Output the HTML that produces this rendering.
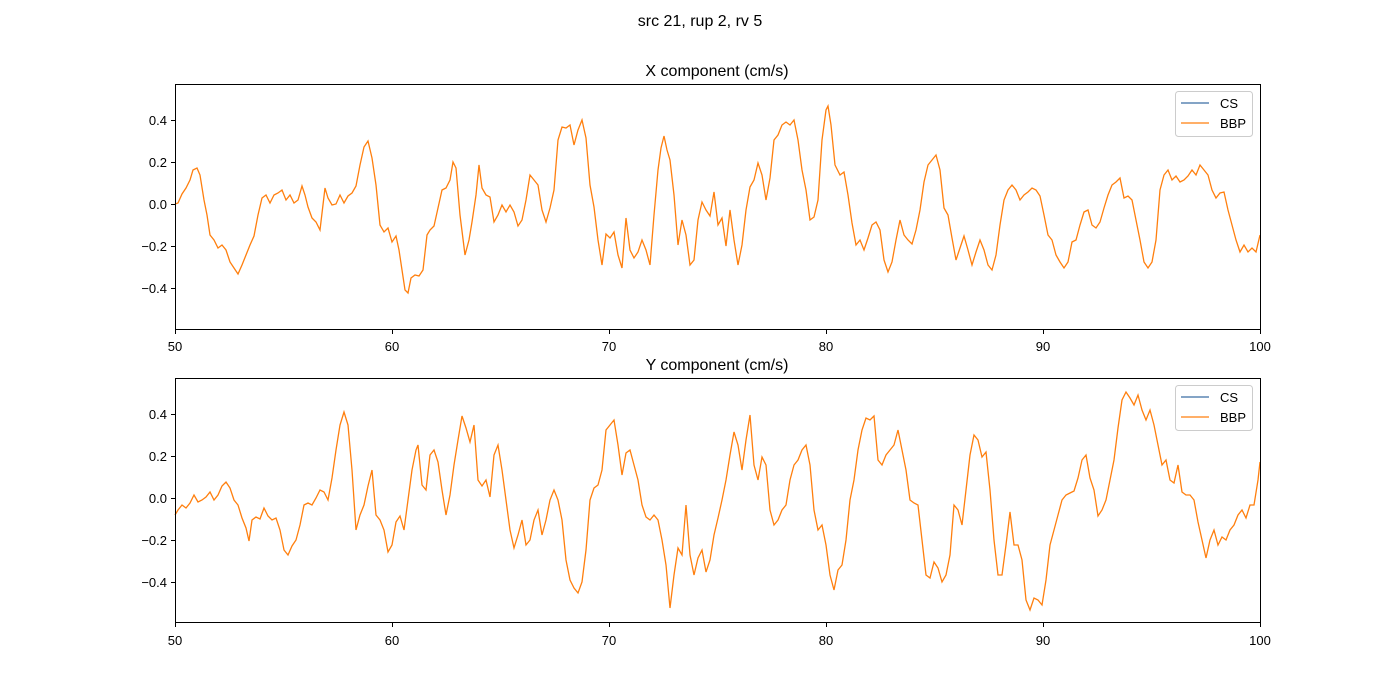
<!DOCTYPE html>
<html><head><meta charset="utf-8"><style>body{margin:0;background:#fff}svg{display:block;font-family:"Liberation Sans","DejaVu Sans",sans-serif}</style></head><body>
<svg width="1400" height="700" viewBox="0 0 1400 700">
<rect width="1400" height="700" fill="#fff"/>
<text x="700" y="26" font-size="16" text-anchor="middle">src 21, rup 2, rv 5</text>
<text x="717" y="76" font-size="16" text-anchor="middle">X component (cm/s)</text>
<text x="717" y="370" font-size="16" text-anchor="middle">Y component (cm/s)</text>
<g fill="none" stroke="#ff7f0e" stroke-width="1.3">
<polyline points="175,204 178,203 182,194 186,188 190,180 193,170 197,168 200,175 204,200 207,215 210,235 214,240 218,248 222,245 226,250 230,262 234,268 238,274 242,265 246,255 250,245 254,236 258,215 262,198 266,195 270,203 274,195 278,193 282,190 286,200 290,195 294,203 298,200 302,186 305,195 308,207 312,218 316,222 320,230 325,188 328,198 332,205 336,204 340,195 344,203 348,196 352,193 356,186 360,165 364,147 368,141 372,158 376,185 380,225 384,232 388,228 392,242 396,236 399,250 402,270 405,290 408,293 411,278 415,275 419,276 423,270 427,235 430,230 434,226 438,208 442,190 446,188 450,180 453,162 456,168 460,215 465,255 469,240 472,222 476,195 479,165 482,188 486,195 490,197 494,222 498,215 502,205 506,212 510,205 514,212 518,226 522,220 526,200 530,175 534,180 538,185 542,210 546,222 550,208 554,190 558,140 562,127 566,128 570,125 574,145 578,130 582,120 586,138 590,185 594,207 598,240 602,265 606,234 610,238 614,232 618,255 622,268 626,218 630,250 634,258 638,252 642,240 646,250 650,265 654,215 658,170 661,148 664,136 667,150 670,160 674,195 678,245 682,220 686,235 690,265 694,260 698,220 702,202 706,210 710,216 714,192 718,225 722,218 726,246 730,210 734,240 738,265 742,245 746,210 750,187 754,180 758,163 762,175 766,200 770,178 774,140 778,135 782,125 786,122 790,125 794,120 798,140 802,170 806,190 810,220 814,217 818,200 822,140 826,110 828,106 831,125 835,165 840,175 844,172 848,195 852,223 856,245 860,240 864,250 868,238 872,225 876,222 880,230 884,260 888,272 892,262 896,240 900,220 904,235 908,240 912,244 916,230 920,210 924,182 928,165 932,160 936,155 940,170 944,208 948,215 952,238 956,260 960,248 964,236 968,250 972,265 976,252 980,240 984,250 988,265 992,270 996,255 1000,225 1004,200 1008,190 1012,185 1016,190 1020,200 1024,195 1028,192 1032,188 1036,190 1040,196 1044,215 1048,235 1052,240 1056,255 1060,262 1064,268 1068,262 1072,242 1076,240 1080,225 1084,212 1088,210 1092,225 1096,228 1100,222 1104,208 1108,195 1112,185 1116,182 1120,178 1124,198 1128,196 1132,200 1136,220 1140,240 1144,262 1148,268 1152,262 1156,240 1160,190 1164,175 1168,170 1172,180 1176,176 1180,182 1184,180 1188,176 1192,170 1196,175 1200,165 1204,170 1208,175 1212,190 1216,198 1220,193 1224,192 1228,210 1232,225 1236,240 1240,252 1244,245 1248,252 1252,248 1256,252 1260,235"/>
<polyline points="175,515 178,510 182,505 186,508 190,503 194,495 198,502 202,500 206,497 210,492 214,500 218,495 222,486 226,482 230,488 234,500 238,505 242,518 246,528 249,541 252,520 256,517 260,519 264,508 268,516 272,520 276,518 280,530 284,550 288,555 292,546 296,540 300,525 304,505 308,503 312,505 316,498 320,490 324,492 328,500 332,478 336,450 340,425 344,412 348,425 352,470 356,530 360,515 364,505 368,486 372,470 376,515 380,520 384,530 388,552 392,545 396,522 400,516 404,530 408,500 412,470 416,450 418,445 422,485 426,490 430,455 434,450 438,462 442,490 446,515 450,495 454,465 458,440 462,416 466,428 470,442 474,425 478,480 482,486 486,480 490,497 494,455 498,445 502,470 506,500 510,530 514,548 518,535 522,520 526,545 530,540 534,520 538,510 542,535 546,520 550,500 554,490 558,500 562,520 566,560 570,580 574,588 578,593 582,582 586,550 590,500 594,488 598,485 602,470 606,430 610,425 614,420 618,445 622,475 626,453 630,450 634,465 638,480 642,505 646,517 650,520 654,515 658,520 662,540 666,565 670,608 674,575 678,548 682,555 686,505 690,555 694,575 698,558 702,550 706,572 710,560 714,535 718,518 722,500 726,480 730,455 734,432 738,445 742,470 746,440 750,415 754,465 758,480 762,457 766,465 770,510 774,525 778,520 782,510 786,505 790,480 794,465 798,460 802,450 806,445 810,465 814,510 818,530 822,525 826,545 830,575 834,590 838,570 842,565 846,540 850,500 854,480 858,450 862,430 866,418 870,420 874,416 878,460 882,465 886,455 890,450 894,445 898,430 902,450 906,470 910,500 914,503 918,505 922,540 926,575 930,578 934,562 938,568 942,582 946,575 950,555 954,505 958,510 962,525 966,490 970,455 974,435 978,440 982,457 986,452 990,490 994,540 998,575 1002,575 1006,545 1010,512 1014,545 1018,545 1022,560 1026,600 1030,610 1034,598 1038,600 1042,605 1046,580 1050,545 1054,530 1058,515 1062,500 1066,495 1070,493 1074,491 1078,478 1082,460 1086,455 1090,478 1094,490 1098,516 1102,510 1106,500 1110,480 1114,460 1118,428 1122,400 1126,392 1130,398 1134,405 1138,395 1142,410 1146,420 1150,410 1154,425 1158,445 1162,465 1166,460 1170,480 1174,483 1178,465 1182,492 1186,495 1190,495 1194,500 1198,522 1202,540 1206,558 1210,540 1214,530 1218,545 1222,537 1226,540 1230,530 1234,525 1238,515 1242,510 1246,518 1250,505 1254,505 1258,480 1260,462"/>
</g>
<g fill="none" stroke="#000" stroke-width="1">
<rect x="175.5" y="84.5" width="1085" height="245"/>
<rect x="175.5" y="378.5" width="1085" height="244"/>
<path d="M175.5,330v4M392.5,330v4M609.5,330v4M826.5,330v4M1043.5,330v4M1260.5,330v4 M175.5,623v4M392.5,623v4M609.5,623v4M826.5,623v4M1043.5,623v4M1260.5,623v4 M171,288.5h4M171,246.5h4M171,204.5h4M171,162.5h4M171,120.5h4 M171,582.5h4M171,540.5h4M171,498.5h4M171,456.5h4M171,414.5h4"/>
</g>
<g font-size="13" text-anchor="middle">
<text x="175" y="351">50</text><text x="392" y="351">60</text><text x="609" y="351">70</text><text x="826" y="351">80</text><text x="1043" y="351">90</text><text x="1260" y="351">100</text>
<text x="175" y="645">50</text><text x="392" y="645">60</text><text x="609" y="645">70</text><text x="826" y="645">80</text><text x="1043" y="645">90</text><text x="1260" y="645">100</text>
</g>
<g font-size="13" text-anchor="end">
<text x="167" y="293">−0.4</text><text x="167" y="251">−0.2</text><text x="167" y="209">0.0</text><text x="167" y="167">0.2</text><text x="167" y="125">0.4</text>
<text x="167" y="587">−0.4</text><text x="167" y="545">−0.2</text><text x="167" y="503">0.0</text><text x="167" y="461">0.2</text><text x="167" y="419">0.4</text>
</g>
<g font-size="13">
<rect x="1175.5" y="91.5" width="77" height="45" rx="3" fill="#fff" stroke="#ccc"/>
<line x1="1181" y1="103" x2="1209" y2="103" stroke="#3b6ea5" stroke-width="1.3"/><text x="1220" y="108">CS</text>
<line x1="1181" y1="123" x2="1209" y2="123" stroke="#ff7f0e" stroke-width="1.3"/><text x="1220" y="128">BBP</text>
<rect x="1175.5" y="385.5" width="77" height="45" rx="3" fill="#fff" stroke="#ccc"/>
<line x1="1181" y1="397" x2="1209" y2="397" stroke="#3b6ea5" stroke-width="1.3"/><text x="1220" y="402">CS</text>
<line x1="1181" y1="417" x2="1209" y2="417" stroke="#ff7f0e" stroke-width="1.3"/><text x="1220" y="422">BBP</text>
</g>
</svg>
</body></html>
